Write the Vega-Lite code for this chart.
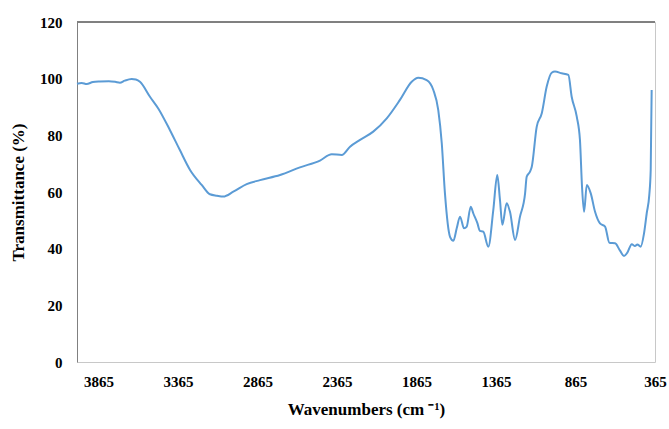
{
  "$schema": "https://vega.github.io/schema/vega-lite/v6.json",
  "width": 578,
  "height": 340,
  "autosize": {"type": "none"},
  "padding": {"left": 77, "top": 22, "right": 14, "bottom": 67},
  "background": "white",
  "config": {
    "view": {"stroke": "#c8c8c8", "strokeWidth": 1},
    "font": "Liberation Serif"
  },
  "data": {
    "values": [
      {"w": 4000, "t": 98.2}, {"w": 3970, "t": 98.5}, {"w": 3939, "t": 98.1}, {"w": 3900, "t": 98.8},
      {"w": 3855, "t": 99.0}, {"w": 3800, "t": 99.1}, {"w": 3760, "t": 98.9}, {"w": 3730, "t": 98.6},
      {"w": 3700, "t": 99.3}, {"w": 3656, "t": 99.9}, {"w": 3630, "t": 99.7}, {"w": 3604, "t": 98.9},
      {"w": 3541, "t": 93.6}, {"w": 3489, "t": 89.5}, {"w": 3416, "t": 81.9}, {"w": 3353, "t": 74.8},
      {"w": 3289, "t": 67.8}, {"w": 3216, "t": 62.5}, {"w": 3164, "t": 59.2}, {"w": 3120, "t": 58.7},
      {"w": 3080, "t": 58.4}, {"w": 3017, "t": 60.1}, {"w": 2933, "t": 62.8}, {"w": 2849, "t": 64.2},
      {"w": 2723, "t": 66.0}, {"w": 2598, "t": 68.7}, {"w": 2472, "t": 71.1}, {"w": 2398, "t": 73.3},
      {"w": 2335, "t": 73.1}, {"w": 2283, "t": 76.0}, {"w": 2220, "t": 78.4}, {"w": 2137, "t": 81.3},
      {"w": 2052, "t": 86.0}, {"w": 1969, "t": 92.5}, {"w": 1895, "t": 98.9}, {"w": 1854, "t": 100.3},
      {"w": 1801, "t": 99.5}, {"w": 1759, "t": 96.0}, {"w": 1728, "t": 88.9}, {"w": 1706, "t": 77.2},
      {"w": 1686, "t": 59.5}, {"w": 1654, "t": 44.2}, {"w": 1633, "t": 42.8}, {"w": 1612, "t": 47.2},
      {"w": 1591, "t": 51.3}, {"w": 1566, "t": 47.2}, {"w": 1549, "t": 47.8}, {"w": 1524, "t": 54.8},
      {"w": 1508, "t": 52.5}, {"w": 1482, "t": 49.0}, {"w": 1466, "t": 46.3}, {"w": 1445, "t": 46.0},
      {"w": 1413, "t": 40.7}, {"w": 1382, "t": 53.6}, {"w": 1357, "t": 66.0}, {"w": 1340, "t": 57.2},
      {"w": 1325, "t": 48.4}, {"w": 1298, "t": 56.0}, {"w": 1277, "t": 53.0}, {"w": 1245, "t": 43.1},
      {"w": 1214, "t": 51.3}, {"w": 1182, "t": 59.5}, {"w": 1172, "t": 65.4}, {"w": 1151, "t": 67.2},
      {"w": 1140, "t": 68.9}, {"w": 1109, "t": 83.0}, {"w": 1077, "t": 87.8}, {"w": 1046, "t": 97.2},
      {"w": 1015, "t": 102.1}, {"w": 994, "t": 102.5}, {"w": 952, "t": 101.9}, {"w": 910, "t": 101.3},
      {"w": 889, "t": 93.6}, {"w": 857, "t": 86.6}, {"w": 837, "t": 78.4}, {"w": 824, "t": 61.9},
      {"w": 811, "t": 53.0}, {"w": 794, "t": 62.5}, {"w": 769, "t": 59.5}, {"w": 742, "t": 53.0},
      {"w": 711, "t": 48.9}, {"w": 679, "t": 47.8}, {"w": 652, "t": 42.1}, {"w": 616, "t": 41.9},
      {"w": 585, "t": 39.3}, {"w": 560, "t": 37.4}, {"w": 539, "t": 38.6}, {"w": 511, "t": 41.6},
      {"w": 491, "t": 40.9}, {"w": 476, "t": 41.5}, {"w": 455, "t": 40.7}, {"w": 434, "t": 45.4},
      {"w": 417, "t": 52.5}, {"w": 401, "t": 58.9}, {"w": 392, "t": 67.8}, {"w": 386, "t": 96.0}
    ]
  },
  "layer": [
    {
      "mark": {"type": "rule", "color": "#808080", "strokeWidth": 1},
      "encoding": {"y": {"datum": 120, "type": "quantitative"}}
    },
    {
      "mark": {"type": "line", "color": "#5b9bd5", "strokeWidth": 2, "interpolate": "monotone"},
      "encoding": {
        "x": {
          "field": "w",
          "type": "quantitative",
          "scale": {"domain": [365, 4000], "reverse": true, "nice": false, "zero": false},
          "axis": {
            "title": "Wavenumbers (cm ⁻¹)",
            "values": [3865, 3365, 2865, 2365, 1865, 1365, 865, 365],
            "format": "d",
            "grid": false,
            "ticks": false,
            "domain": false,
            "labelFont": "Liberation Serif",
            "labelFontWeight": "bold",
            "labelFontSize": 15,
            "labelColor": "#000000",
            "labelPadding": 12,
            "labelFlush": false,
            "titleFont": "Liberation Serif",
            "titleFontWeight": "bold",
            "titleFontSize": 17,
            "titleColor": "#000000",
            "titlePadding": 12
          }
        },
        "y": {
          "field": "t",
          "type": "quantitative",
          "scale": {"domain": [0, 120], "nice": false},
          "axis": {
            "title": "Transmittance (%)",
            "values": [0, 20, 40, 60, 80, 100, 120],
            "grid": false,
            "ticks": false,
            "domain": true,
            "domainColor": "#808080",
            "domainWidth": 1,
            "labelFont": "Liberation Serif",
            "labelFontWeight": "bold",
            "labelFontSize": 15,
            "labelColor": "#000000",
            "labelPadding": 15,
            "titleFont": "Liberation Serif",
            "titleFontWeight": "bold",
            "titleFontSize": 17,
            "titleColor": "#000000",
            "titlePadding": 12
          }
        }
      }
    }
  ]
}
